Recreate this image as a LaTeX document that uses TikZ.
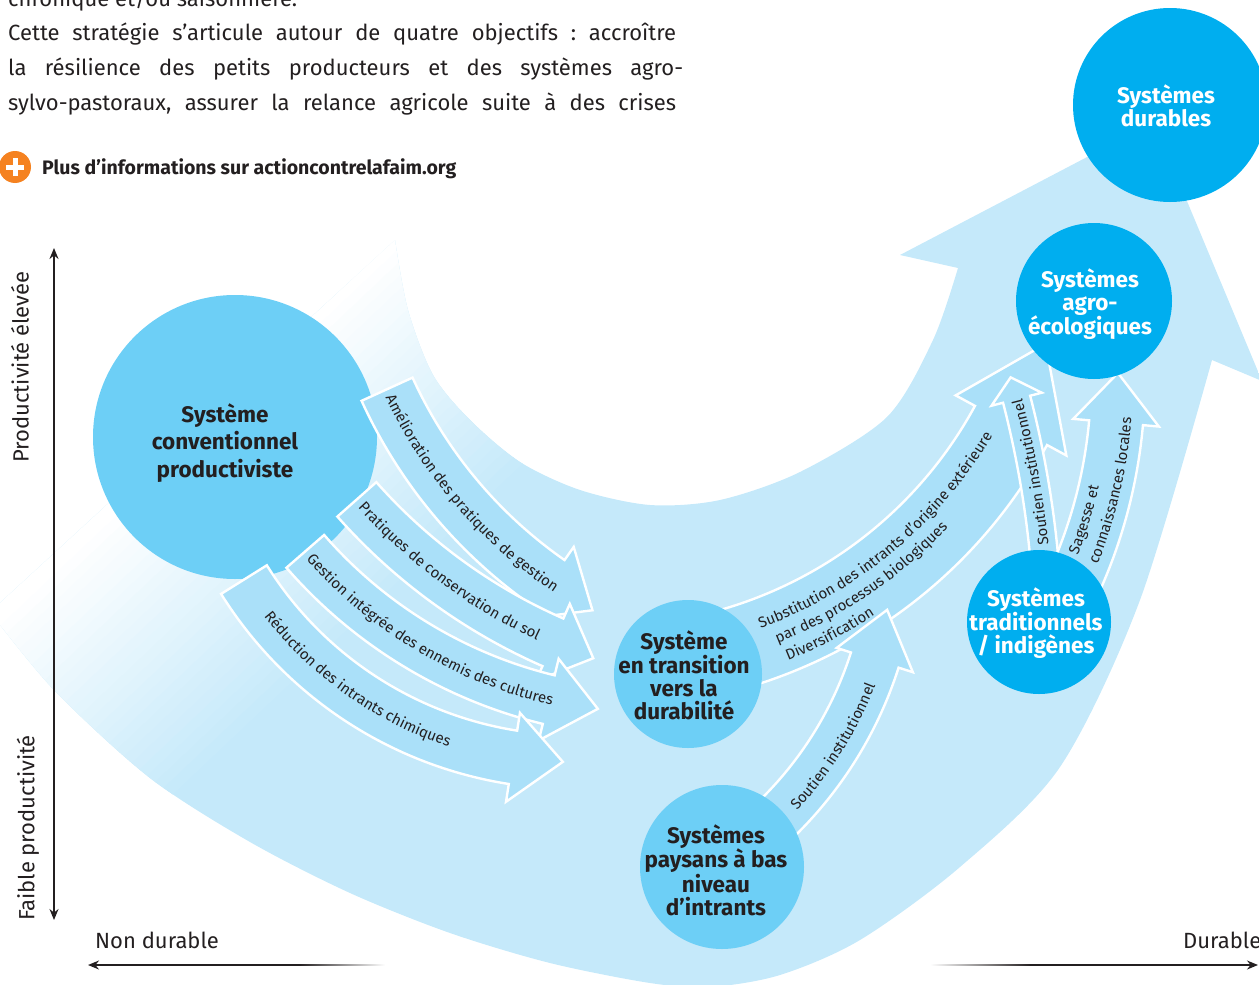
\documentclass[tikz,border=0pt]{standalone}
\usepackage{fontspec}
\setmainfont{Fira Sans}
\usetikzlibrary{calc,arrows.meta,decorations.text}

\definecolor{bandblue}{RGB}{197,233,250}
\definecolor{arrowblue}{RGB}{170,224,249}
\definecolor{circlight}{RGB}{109,207,246}
\definecolor{circdark}{RGB}{0,174,239}
\definecolor{txtdark}{RGB}{35,31,32}
\definecolor{plusorange}{RGB}{245,130,32}

\newcommand{\arrowfont}{\fontsize{15}{17}\selectfont\color{txtdark}}

% curved block arrow: centre, radius, half width, tail angle, head angle, tip angle, wing
\newcommand{\curvedarrow}[7]{%
    \filldraw[flowarrow]
        ($(#1)+({#4}:{#2+#3})$) arc[start angle=#4, end angle=#5, radius=#2+#3]
        -- ($(#1)+({#5}:{#2+#3+#7})$) -- ($(#1)+({#6}:{#2})$)
        -- ($(#1)+({#5}:{#2-#3-#7})$) -- ($(#1)+({#5}:{#2-#3})$)
        arc[start angle=#5, end angle=#4, radius=#2-#3] -- cycle;}

% text along an arc: centre, radius, from, to, indent, text
\newcommand{\arctext}[6]{%
    \path[decorate, decoration={text along path, text align={left indent=#5},
            text={|\arrowfont|#6}}]
        ($(#1)+({#3}:{#2})$) arc[start angle=#3, end angle=#4, radius=#2];}

\begin{document}
\begin{tikzpicture}[x=1pt, y=1pt]
        % Define styles
        \tikzset{
            flowarrow/.style={fill=arrowblue, draw=white, line width=2.4pt, line join=miter},
            lightdisc/.style={circle, fill=circlight, inner sep=0pt},
            darkdisc/.style={circle, fill=circdark, inner sep=0pt},
            disctext/.style={align=center, inner sep=0pt, font=\bfseries\fontsize{22.5}{23}\selectfont},
            axisline/.style={line width=1.5pt, draw=txtdark},
            axislabel/.style={font=\fontsize{22}{24}\selectfont, text=txtdark, inner sep=0pt},
            bodytext/.style={font=\fontsize{22}{35}\selectfont\frenchspacing, text=txtdark, inner sep=0pt, anchor=base west},
            tip/.style={-{Stealth[length=11pt, width=9pt]}}
        }
        \useasboundingbox (0,-985) rectangle (1259,0);

        % Big background arrow, fading out at its left end
        \begin{scope}
            \clip (395,-240) -- (-10,-612)
                -- plot[smooth] coordinates {(-10,-612) (54,-690) (150,-778) (250,-842) (350,-893) (450,-933)
                    (550,-963) (650,-983) (710,-987) (780,-975) (860,-940) (960,-867) (1060,-767) (1140,-600) (1212,-360)}
                -- (1262,-381) -- (1154,-122) -- (900,-255) -- (958,-268)
                -- plot[smooth] coordinates {(958,-268) (933,-340) (887,-417) (800,-472) (720,-500)
                    (650,-505) (580,-490) (520,-462) (470,-420) (433,-375) (408,-310) (395,-240)}
                -- cycle;
            \fill[bandblue] (-50,-1050) rectangle (1300,50);
            \fill[white, rotate=-46.6] (300,-1500) rectangle (446,1500);
            \foreach \i [evaluate=\i as \p using int(4*\i), evaluate=\i as \u using 445+10*\i] in {0,...,24}
                \fill[bandblue!\p!white, rotate=-46.6] (\u,-1500) rectangle ++(11,3000);
        \end{scope}

        % Arrows on the right, under the discs
        \coordinate (subc) at (605,-205);
        \curvedarrow{subc}{462}{41}{-80}{-28.5}{-17.5}{22}
        \arctext{subc}{451}{-69.8}{-18}{0pt}{Substitution des intrants d’origine extérieure}
        \arctext{subc}{471}{-68.5}{-20}{0pt}{par des processus biologiques}
        \arctext{subc}{491}{-68.1}{-22}{0pt}{Diversification}

        \coordinate (lowc) at (508,-543);
        \curvedarrow{lowc}{385}{25}{-56}{-17.7}{-10}{15}
        \arctext{lowc}{394}{-42.8}{-11}{0pt}{Soutien institutionnel}

        \coordinate (uppc) at (48.5,-649.6);
        \curvedarrow{uppc}{1000}{14}{2}{14.5}{15.8}{12}
        \arctext{uppc}{1005.5}{6}{16}{0pt}{Soutien institutionnel}

        \coordinate (sagc) at (626,-379);
        \curvedarrow{sagc}{492}{27}{-28}{-5.1}{0.7}{16}
        \arctext{sagc}{485}{-21.3}{2}{0pt}{Sagesse et}
        \arctext{sagc}{507}{-21.5}{2}{0pt}{connaissances locales}

        % Discs
        \node[lightdisc, minimum size=284pt] (conv) at (235,-437) {};
        \node[lightdisc, minimum size=148pt] (trans) at (688,-674) {};
        \node[lightdisc, minimum size=164pt] (paysans) at (722,-867) {};
        \node[darkdisc, minimum size=144pt] (trad) at (1039,-622) {};
        \node[darkdisc, minimum size=156pt] (agro) at (1094,-301) {};
        \node[darkdisc, minimum size=194pt] (durab) at (1170,-105) {};

        \node[disctext, text=txtdark, font=\bfseries\fontsize{22.5}{27.5}\selectfont] (convtext) at (225,-443)
            {Système\\conventionnel\\productiviste};
        \node[disctext, text=txtdark] (transtext) at (684,-675) {Système\\en transition\\vers la\\durabilité};
        \node[disctext, text=txtdark] (paysanstext) at (716,-870) {Systèmes\\paysans à bas\\niveau\\d’intrants};
        \node[disctext, text=white] (tradtext) at (1036,-623) {Systèmes\\traditionnels\\/ indigènes};
        \node[disctext, text=white] (agrotext) at (1090,-304) {Systèmes\\agro-\\écologiques};
        \node[disctext, text=white] (durabtext) at (1166,-106) {Systèmes\\durables};

        % Arrows on the left, over the first disc
        \coordinate (amec) at (822,-191);
        \curvedarrow{amec}{478}{28}{-155.5}{-124.9}{-118.7}{16}
        \arctext{amec}{483}{-155.5}{-117}{7pt}{Amélioration des pratiques de gestion}

        \coordinate (pratc) at (780,-125);
        \curvedarrow{pratc}{565}{26}{-138.5}{-113.7}{-109.3}{16}
        \arctext{pratc}{570}{-138.5}{-108}{7pt}{Pratiques de conservation du sol}

        \coordinate (gestc) at (660,-243);
        \curvedarrow{gestc}{470}{25}{-139}{-103.7}{-97.6}{17}
        \arctext{gestc}{475}{-139}{-96}{7pt}{Gestion intégrée des ennemis des cultures}

        \coordinate (reduc) at (573,-374);
        \curvedarrow{reduc}{388}{27}{-148}{-98.9}{-91.5}{18}
        \arctext{reduc}{393}{-148}{-90}{42pt}{Réduction des intrants chimiques}

        % Axes
        \coordinate (ytop) at (54,-248);
        \coordinate (ybot) at (54,-920);
        \draw[axisline, {Stealth[length=11pt, width=9pt]}-{Stealth[length=11pt, width=9pt]}] (ytop) -- (ybot);
        \node[axislabel, rotate=90] (prodhigh) at (20,-367) {Productivité élevée};
        \node[axislabel, rotate=90] (prodlow) at (28,-828) {Faible productivité};

        \coordinate (xleft) at (88,-965);
        \coordinate (xleftfade) at (300,-965);
        \shade[left color=txtdark, right color=white] (299,-964.25) rectangle (385,-965.75);
        \draw[axisline, tip] (xleftfade) -- (xleft);
        \coordinate (xright) at (1258,-965);
        \coordinate (xrightfade) at (1030,-965);
        \shade[left color=white, right color=txtdark] (930,-964.25) rectangle (1031,-965.75);
        \draw[axisline, tip] (xrightfade) -- (xright);
        \node[axislabel, anchor=base west] (nondur) at (95,-948) {Non durable};
        \node[axislabel, anchor=base west] (dur) at (1183,-948) {Durable};

        % Text above the diagram
        \node[bodytext] (para0) at (8,-6) {chronique et/ou saisonnière.};
        \node[bodytext] (para1) at (8,-40) {\makebox[668pt][s]{Cette stratégie s’articule autour de quatre objectifs : accroître}};
        \node[bodytext] (para2) at (8,-75) {\makebox[675pt][s]{la résilience des petits producteurs et des systèmes agro-}};
        \node[bodytext] (para3) at (8,-110) {\makebox[668pt][s]{sylvo-pastoraux, assurer la relance agricole suite à des crises}};

        \node[circle, fill=plusorange, minimum size=32pt, inner sep=0pt] (plusicon) at (15,-167) {};
        \draw[white, line width=5pt] ($(plusicon)+(-9,0)$) -- ($(plusicon)+(9,0)$);
        \draw[white, line width=5pt] ($(plusicon)+(0,-9)$) -- ($(plusicon)+(0,9)$);
        \node[anchor=base west, inner sep=0pt, text=txtdark, font=\bfseries\fontsize{19.5}{22}\selectfont] (moreinfo)
            at (42,-174) {Plus d’informations sur actioncontrelafaim.org};

    \end{tikzpicture}
\end{document}
